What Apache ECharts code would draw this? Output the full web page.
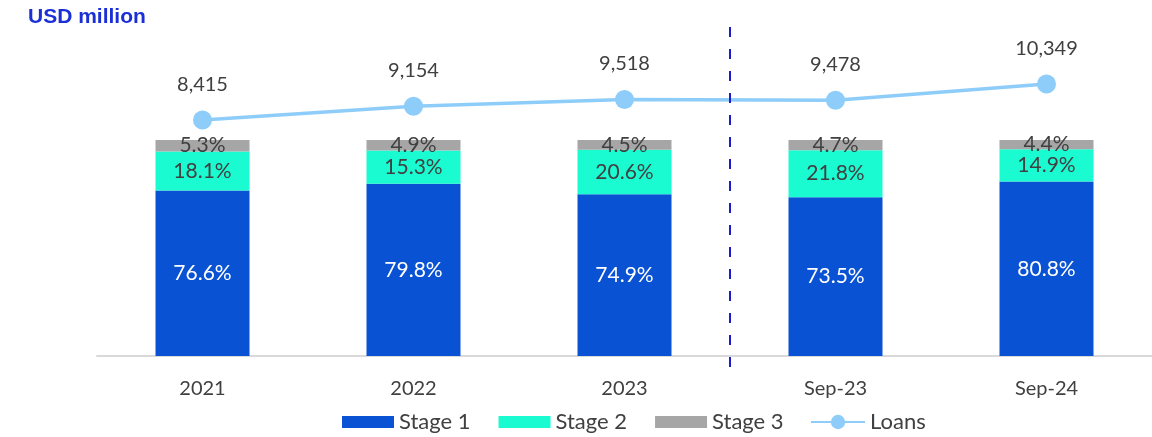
<!DOCTYPE html>
<html>
<head>
<meta charset="utf-8">
<script src="https://cdn.jsdelivr.net/npm/echarts@6/dist/echarts.min.js"></script>
<style>
  html, body { margin: 0; padding: 0; background: #fff; }
  #chart { width: 1152px; height: 437px; }
</style>
</head>
<body>
<div id="chart"></div>
<script>
var categories = ['2021', '2022', '2023', 'Sep-23', 'Sep-24'];
var stage1 = [76.6, 79.8, 74.9, 73.5, 80.8];
var stage2 = [18.1, 15.3, 20.6, 21.8, 14.9];
var stage3 = [5.3, 4.9, 4.5, 4.7, 4.4];
var loans = [8415, 9154, 9518, 9478, 10349];

var FONT = 'Lato, "Open Sans", sans-serif';
var TEXT = '#404040';

var chart = echarts.init(document.getElementById('chart'), null, { renderer: 'canvas' });

function pct(p) { return p.value.toFixed(1) + '%'; }

var legendText = { fontFamily: FONT, fontSize: 22, color: TEXT };

chart.setOption({
  animation: false,
  title: {
    text: 'USD million',
    left: 23,
    top: 2,
    textStyle: { fontFamily: 'Arial, "Liberation Sans", sans-serif', fontSize: 21, fontWeight: 'bold', color: '#1a2fd6' }
  },
  legend: [
    {
      left: 342, top: 411, padding: 0,
      itemWidth: 52, itemHeight: 12, itemGap: 28,
      textStyle: legendText,
      data: [
        { name: 'Stage 1', icon: 'rect' },
        { name: 'Stage 2', icon: 'rect' },
        { name: 'Stage 3', icon: 'rect' }
      ]
    },
    {
      left: 810, top: 411, padding: 0,
      itemWidth: 54, itemHeight: 18,
      textStyle: legendText,
      data: ['Loans']
    }
  ],
  grid: [
    { left: 97, right: 0, top: 140, bottom: 81 },
    { left: 97, right: 0, top: 84, height: 36 }
  ],
  xAxis: [
    {
      type: 'category', data: categories, gridIndex: 0,
      axisLine: { lineStyle: { color: '#d9d9d9', width: 2 } },
      axisTick: { show: false },
      axisLabel: { fontFamily: FONT, fontSize: 20, color: TEXT, margin: 23 }
    },
    { type: 'category', data: categories, gridIndex: 1, show: false }
  ],
  yAxis: [
    { type: 'value', gridIndex: 0, min: 0, max: 100, show: false },
    { type: 'value', gridIndex: 1, min: 8415, max: 10349, show: false }
  ],
  series: [
    {
      name: 'Stage 1', type: 'bar', stack: 's', data: stage1, barWidth: 94,
      itemStyle: { color: '#0a52d4' },
      label: { show: true, position: 'inside', formatter: pct, fontFamily: FONT, fontSize: 21, color: '#fff' }
    },
    {
      name: 'Stage 2', type: 'bar', stack: 's', data: stage2,
      itemStyle: { color: '#1afbd2' },
      label: { show: true, position: 'inside', formatter: pct, fontFamily: FONT, fontSize: 21, color: TEXT }
    },
    {
      name: 'Stage 3', type: 'bar', stack: 's', data: stage3,
      itemStyle: { color: '#a6a6a6' },
      label: { show: true, position: 'inside', formatter: pct, fontFamily: FONT, fontSize: 21, color: TEXT }
    },
    {
      name: 'Loans', type: 'line', data: loans, xAxisIndex: 1, yAxisIndex: 1,
      clip: false,
      symbol: 'circle', symbolSize: 19,
      lineStyle: { color: '#8ecdf9', width: 3.5 },
      itemStyle: { color: '#8ecdf9' },
      label: {
        show: true, position: 'top', distance: 16,
        formatter: function (p) { return p.value.toLocaleString('en-US'); },
        fontFamily: FONT, fontSize: 20, color: TEXT
      },
      z: 5
    }
  ]
});

// dashed divider between full years and interim periods
var a = chart.convertToPixel({ xAxisIndex: 0 }, '2023');
var b = chart.convertToPixel({ xAxisIndex: 0 }, 'Sep-23');
var xm = Math.round((a + b) / 2);
chart.setOption({
  graphic: [{
    type: 'line',
    shape: { x1: xm, y1: 27, x2: xm, y2: 370 },
    style: { stroke: '#1b1bd0', lineWidth: 2, lineDash: [10, 12] },
    z: 10
  }]
});
</script>
</body>
</html>
